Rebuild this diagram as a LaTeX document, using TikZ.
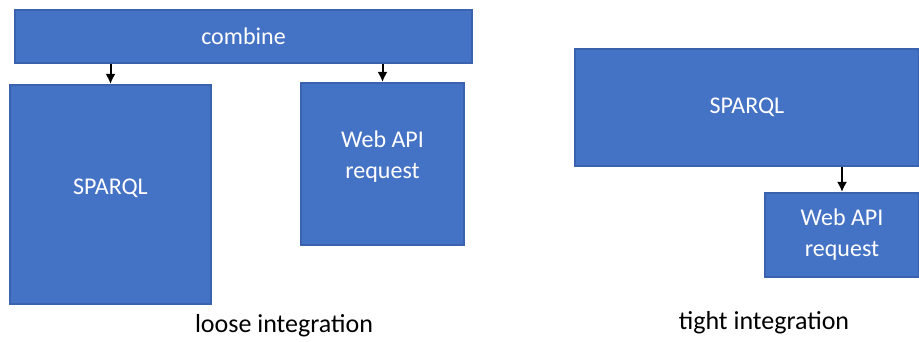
\documentclass[tikz,border=0pt]{standalone}
\usepackage{fontspec}
\setmainfont{Carlito}
\usepackage{tikz}
\usetikzlibrary{arrows.meta}
\usetikzlibrary{positioning}
\usetikzlibrary{calc}
\definecolor{officeblue}{HTML}{4472C4}
\definecolor{officeedge}{HTML}{3A62AE}
\tikzstyle{block}=[draw=officeedge,fill=officeblue,text=white,rectangle,inner sep=2pt,align=center,font=\fontsize{24}{31}\selectfont]
\tikzstyle{caption}=[font=\fontsize{26}{31}\selectfont]

\begin{document}
\begin{tikzpicture}[x=1pt,y=-1pt,line width=2pt]
\useasboundingbox (0,0) rectangle (919,342);

% loose integration
\node [block,minimum width=457pt,minimum height=53pt] (combine) at (243.5,36.5) {combine};
\node [block,minimum width=201pt,minimum height=219pt] (sparqlL) at (110.5,194.5) {SPARQL\\[-16pt]};
\node [block,minimum width=163pt,minimum height=162pt] (apiL) at (382.5,164) {Web API\\request\\[-13pt]};
\node [caption] (loose) at (284,326) {loose integration};

\draw[->,>={Latex[length=10pt,width=10pt]}] (sparqlL.north |- combine.south) -- (sparqlL.north);
\draw[->,>={Latex[length=10pt,width=10pt]}] (apiL.north |- combine.south) -- (apiL.north);

% tight integration
\node [block,minimum width=344pt,minimum height=117pt] (sparqlR) at (747,107.5) {SPARQL};
\node [block,minimum width=154pt,minimum height=84pt] (apiR) at (842,235) {Web API\\request};
\node [caption] (tight) at (764,323) {tight integration};

\draw[->,>={Latex[length=10pt,width=10pt]}] (apiR.north |- sparqlR.south) -- (apiR.north);
\end{tikzpicture}
\end{document}
